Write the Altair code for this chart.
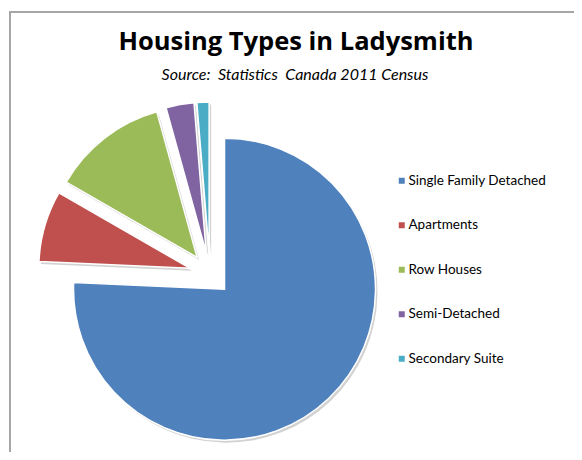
import altair as alt
import pandas as pd

categories = ["Single Family Detached", "Apartments", "Row Houses", "Semi-Detached", "Secondary Suite"]
shares = [75.7, 7.6, 12.4, 3.0, 1.3]
colors = ["#4F81BD", "#C0504D", "#9BBB59", "#8064A2", "#4BACC6"]
title_text = "Housing Types in Ladysmith"
subtitle_text = "Source:\u00a0 Statistics\u00a0 Canada 2011 Census"

W, H = 566, 444
CX, CY = 202, 266
R = 151
EXPLODE = 21
FONT = "Lato"

df = pd.DataFrame({"category": categories, "share": shares, "idx": list(range(len(categories)))})

base = (
    alt.Chart(df)
    .transform_joinaggregate(total="sum(share)")
    .transform_window(cum="sum(share)", sort=[alt.SortField("idx")], frame=[None, 0])
    .transform_calculate(
        a0="(datum.cum - datum.share) / datum.total * 2 * PI",
        a1="datum.cum / datum.total * 2 * PI",
    )
    .transform_calculate(mid="(datum.a0 + datum.a1) / 2")
    .transform_calculate(
        px=f"{CX} + {EXPLODE} * sin(datum.mid)",
        py=f"{CY} - {EXPLODE} * cos(datum.mid)",
    )
    .transform_calculate(sx="datum.px + 2", sy="datum.py + 2.5")
)

shadow = base.mark_arc(radius=R, color="#7f7f7f", opacity=0.35).encode(
    x=alt.X("sx:Q", scale=None, axis=None),
    y=alt.Y("sy:Q", scale=None, axis=None),
    theta=alt.Theta("a0:Q", scale=None),
    theta2="a1:Q",
)

pie = base.mark_arc(radius=R, stroke="white", strokeWidth=1.5).encode(
    x=alt.X("px:Q", scale=None, axis=None),
    y=alt.Y("py:Q", scale=None, axis=None),
    theta=alt.Theta("a0:Q", scale=None),
    theta2="a1:Q",
    color=alt.Color(
        "category:N",
        sort=categories,
        scale=alt.Scale(domain=categories, range=colors),
        legend=alt.Legend(
            orient="none",
            legendX=387,
            legendY=166,
            title=None,
            symbolType="square",
            symbolSize=36,
            symbolStrokeWidth=0,
            labelFont=FONT,
            labelFontSize=13.5,
            labelColor="#000000",
            labelOffset=0,
            rowPadding=29.5,
            padding=0,
        ),
    ),
    tooltip=["category:N", "share:Q"],
)

frame_top = alt.Chart(pd.DataFrame({"k": [0]})).mark_rule(color="#a6a6a6", strokeWidth=2).encode(
    x=alt.value(1), x2=alt.value(W), y=alt.value(4)
)
frame_left = alt.Chart(pd.DataFrame({"k": [0]})).mark_rule(color="#a6a6a6", strokeWidth=2).encode(
    x=alt.value(2), y=alt.value(4), y2=alt.value(H)
)

title = alt.Chart(pd.DataFrame({"t": [title_text]})).mark_text(
    font="Open Sans", fontWeight="bold", fontSize=25.5, baseline="alphabetic", align="center", color="#000000"
).encode(text="t:N", x=alt.value(288), y=alt.value(42))

subtitle = alt.Chart(pd.DataFrame({"t": [subtitle_text]})).mark_text(
    font=FONT, fontStyle="italic", fontSize=16, baseline="alphabetic", align="center", color="#000000"
).encode(text="t:N", x=alt.value(287), y=alt.value(72))

chart = (
    alt.layer(frame_top, frame_left, shadow, pie, title, subtitle)
    .properties(width=W, height=H, autosize="none", padding=0, background="white")
    .configure_view(stroke=None)
)

chart.save("out.html", embed_options={"renderer": "svg", "actions": False})
